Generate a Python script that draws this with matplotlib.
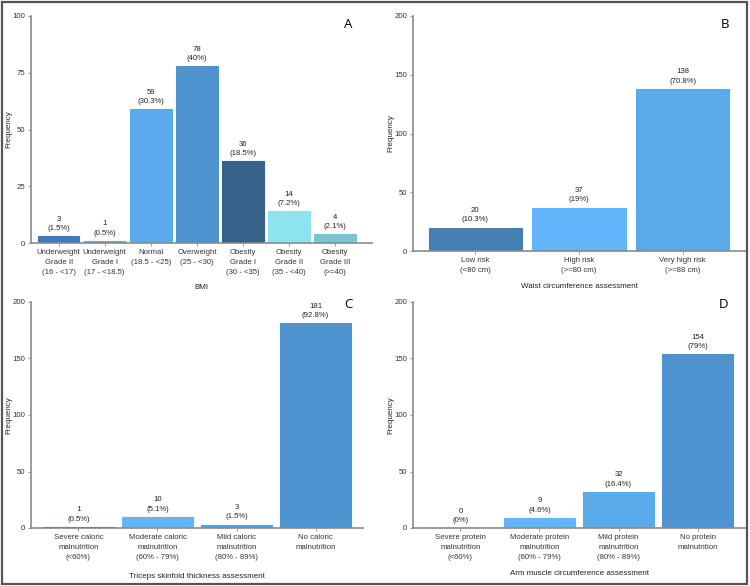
import matplotlib
matplotlib.use("Agg")
from matplotlib import pyplot as plt

plt.rcParams['font.family'] = ['Liberation Sans', 'DejaVu Sans']

# panel A - BMI
bmi_labels = ['Underweight\nGrade II\n(16 - <17)', 'Underweight\nGrade I\n(17 - <18.5)',
              'Normal\n(18.5 - <25)', 'Overweight\n(25 - <30)', 'Obesity\nGrade I\n(30 - <35)',
              'Obesity\nGrade II\n(35 - <40)', 'Obesity\nGrade III\n(>=40)']
bmi_counts = [3, 1, 59, 78, 36, 14, 4]
bmi_pct = ['1.5%', '0.5%', '30.3%', '40%', '18.5%', '7.2%', '2.1%']
bmi_colors = ['#3f7bb6', '#5aabf0', '#5aa9ec', '#4d93d0', '#36628a', '#8ee4ee', '#77c3cf']

# panel B - waist
waist_labels = ['Low risk\n(<80 cm)', 'High risk\n(>=80 cm)', 'Very high risk\n(>=88 cm)']
waist_counts = [20, 37, 138]
waist_pct = ['10.3%', '19%', '70.8%']
waist_colors = ['#4680b3', '#62b4fb', '#5aaaea']

# panel C - triceps skinfold
tsf_labels = ['Severe caloric\nmalnutrition\n(<60%)', 'Moderate caloric\nmalnutrition\n(60% - 79%)',
              'Mild caloric\nmalnutrition\n(80% - 89%)', 'No caloric\nmalnutrition']
tsf_counts = [1, 10, 3, 181]
tsf_pct = ['0.5%', '5.1%', '1.5%', '92.8%']
tsf_colors = ['#2a5a90', '#62b4fb', '#52a0e6', '#4d93d0']

# panel D - arm muscle circumference
amc_labels = ['Severe protein\nmalnutrition\n(<60%)', 'Moderate protein\nmalnutrition\n(60% - 79%)',
              'Mild protein\nmalnutrition\n(80% - 89%)', 'No protein\nmalnutrition']
amc_counts = [0, 9, 32, 154]
amc_pct = ['0%', '4.6%', '16.4%', '79%']
amc_colors = ['#62b4fb', '#62b4fb', '#5aaaec', '#4d93d0']

W, H = 750, 586
fig = plt.figure(figsize=(W / 100, H / 100), dpi=100)

# outer frame
fig.patches.append(plt.Rectangle((0.002, 0.004), 0.994, 0.993, transform=fig.transFigure,
                                 fill=False, edgecolor='#555555', linewidth=1.6))


def px_axes(x0, x1, ytop, ybot):
    return fig.add_axes([x0 / W, 1 - ybot / H, (x1 - x0) / W, (ybot - ytop) / H])


def panel(ax, labels, counts, pct, colors, ymax, yticks, xlim, xlabel, xlab_pad, ylab_x, letter, letter_xy):
    pos = list(range(len(counts)))
    ax.bar(pos, counts, width=0.9, color=colors, edgecolor=colors, linewidth=0.8)
    for p, c, s in zip(pos, counts, pct):
        ax.annotate('%d\n(%s)' % (c, s), (p, c), xytext=(0, 3), textcoords='offset points',
                    ha='center', va='bottom', fontsize=5.6, color='#222222', linespacing=1.45)
    ax.set_ylim(0, ymax)
    ax.set_xlim(*xlim)
    ax.set_yticks(yticks)
    ax.set_xticks(pos)
    ax.set_xticklabels(labels, fontsize=5.6, color='#333333', linespacing=1.6)
    ax.tick_params(axis='both', length=2, width=0.6, color='#888888', labelsize=5.6,
                   labelcolor='#333333', pad=2)
    for sp in ['top', 'right']:
        ax.spines[sp].set_visible(False)
    for sp in ['left', 'bottom']:
        ax.spines[sp].set_color('#8a8a8a')
        ax.spines[sp].set_linewidth(1.2)
    ax.set_ylabel('Frequency', fontsize=5.8, color='#222222')
    ax.yaxis.label.set_va('center')
    ax.yaxis.set_label_coords(ylab_x, 0.5)
    ax.set_xlabel(xlabel, fontsize=5.8, color='#222222', labelpad=xlab_pad)
    fig.text(letter_xy[0] / W, 1 - letter_xy[1] / H, letter, fontsize=9.5,
             ha='center', va='center', family=['Open Sans', 'DejaVu Sans'])


axA = px_axes(31, 372, 16, 243)
panel(axA, bmi_labels, bmi_counts, bmi_pct, bmi_colors, 100, [0, 25, 50, 75, 100],
      (-0.6, 6.8), 'BMI', 6, -0.065, 'A', (348, 24))

axB = px_axes(413, 745, 16, 251)
panel(axB, waist_labels, waist_counts, waist_pct, waist_colors, 200, [0, 50, 100, 150, 200],
      (-0.6, 2.6), 'Waist circumference assessment', 7, -0.066, 'B', (725, 24))

axC = px_axes(31, 363, 302, 528)
panel(axC, tsf_labels, tsf_counts, tsf_pct, tsf_colors, 200, [0, 50, 100, 150, 200],
      (-0.6, 3.6), 'Triceps skinfold thickness assessment', 9, -0.066, 'C', (348, 305))

axD = px_axes(413, 745, 302, 528)
panel(axD, amc_labels, amc_counts, amc_pct, amc_colors, 200, [0, 50, 100, 150, 200],
      (-0.6, 3.6), 'Arm muscle circumference assessment', 7, -0.066, 'D', (724, 305))

plt.savefig('out.png', dpi=100)
